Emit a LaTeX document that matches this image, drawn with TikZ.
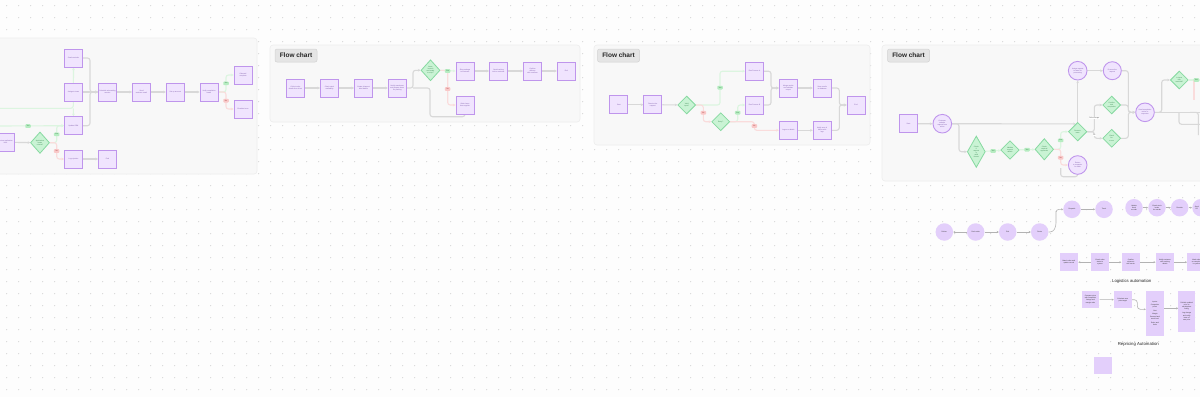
\documentclass[tikz,border=0pt]{standalone}
\usepackage{fontspec}
\setmainfont{Liberation Sans}
\usetikzlibrary{shapes.geometric,arrows.meta,calc}
\definecolor{bgc}{HTML}{FDFDFD}
\definecolor{dotc}{HTML}{CFCFCF}
\definecolor{panf}{HTML}{F8F8F8}
\definecolor{pand}{HTML}{EDEDED}
\definecolor{boxf}{HTML}{F0E4FE}
\definecolor{boxd}{HTML}{BF95EC}
\definecolor{boxt}{HTML}{7E5CAA}
\definecolor{diaf}{HTML}{C9F3D4}
\definecolor{diad}{HTML}{86D9A0}
\definecolor{diat}{HTML}{3E8A55}
\definecolor{lav}{HTML}{E3CFFB}
\definecolor{lineg}{HTML}{D8D8D8}
\definecolor{lgreen}{HTML}{DCF5E0}
\definecolor{lred}{HTML}{FADCDC}
\definecolor{tagyf}{HTML}{B6ECC1}
\definecolor{tagyt}{HTML}{2F7A45}
\definecolor{tagnf}{HTML}{F9C8C8}
\definecolor{tagnt}{HTML}{A33A3A}
\definecolor{fcf}{HTML}{E5E5E5}
\definecolor{fcd}{HTML}{D2D2D2}
\newcommand\nfnt{\fontsize{1.7}{2.1}\selectfont}
\pgfdeclarelayer{back}
\pgfdeclarelayer{lines}
\pgfsetlayers{back,lines,main}
\begin{document}
\begin{tikzpicture}[x=1pt,y=-1pt,
  box/.style={rectangle,draw=boxd,fill=boxf,line width=0.9pt,minimum width=18,minimum height=18,inner sep=0.5,font=\nfnt,align=center,text=boxt},
  dia/.style={diamond,draw=diad,fill=diaf,line width=0.8pt,inner sep=0,minimum width=18.6,minimum height=18.6,font=\nfnt,align=center,text=diat},
  circ/.style={circle,draw=boxd,fill=boxf,line width=0.9pt,minimum size=18.6,inner sep=0,font=\nfnt,align=center,text=boxt},
  lc/.style={circle,fill=lav,minimum size=17.5,inner sep=0,font=\nfnt,align=center,text=black!80},
  lsq/.style={rectangle,fill=lav,minimum width=18.5,minimum height=17.7,inner sep=0.5,font=\nfnt,align=center,text=black!80},
  tagy/.style={rectangle,fill=tagyf,rounded corners=0.8,inner sep=0,minimum width=5.5,minimum height=3.6,font=\fontsize{1.8}{2}\selectfont,text=tagyt},
  tagn/.style={rectangle,fill=tagnf,rounded corners=0.8,inner sep=0,minimum width=5.5,minimum height=3.6,font=\fontsize{1.8}{2}\selectfont,text=tagnt},
  cn/.style={draw=lineg,line width=1.1pt,rounded corners=2.5,-{Stealth[length=2.6,width=2.6]}},
  cnp/.style={draw=lineg,line width=1.1pt,rounded corners=2.5},
  cg/.style={cn,draw=lgreen},
  cgp/.style={cnp,draw=lgreen},
  cr/.style={cn,draw=lred},
  cl/.style={draw=black!30,line width=0.6pt,rounded corners=3,-{Stealth[length=2,width=2]}},
  panel/.style={fill=panf,draw=pand,line width=0.6pt,rounded corners=3},
  fc/.style={fill=fcf,draw=fcd,line width=0.5pt,rounded corners=2,minimum width=42,minimum height=13,inner sep=0,font=\bfseries\fontsize{6.5}{7}\selectfont,text=black!85},
  ttl/.style={font=\fontsize{4.3}{5}\selectfont,text=black!85},
  lbl/.style={fill=white,inner sep=0.3,font=\nfnt,text=black!70}
]
\useasboundingbox (0,0) rectangle (1200,397);
\begin{pgfonlayer}{back}
\fill[bgc] (0,0) rectangle (1200,397);
\foreach \i in {0,...,100}{\foreach \j in {0,...,33}{\fill[dotc] (6.7+12*\i,5.7+12*\j) circle (0.55);}}
\draw[panel] (-5,38) rectangle (257,174);
\draw[panel] (270,45) rectangle (580,122);
\draw[panel] (594,45) rectangle (870,145);
\draw[panel] (882,45) rectangle (1210,181);
\end{pgfonlayer}

% ---------- panel 1 ----------
\node[box] (A) at (73.5,58) {Send reminder};
\node[box] (B) at (73.5,92) {Assign to team};
\node[box] (C) at (73.5,125.7) {Update CRM};
\node[box] (D) at (73.5,159) {Log rejection};
\node[box] (E) at (5.6,142.3) {Review application\\form};
\node[dia,minimum width=19,minimum height=21.4] (D1) at (40,142.7) {Application\\meets\\criteria?};
\node[box] (F) at (107.5,159) {End};
\node[box] (G) at (107.5,92) {Schedule onboarding\\session};
\node[box] (H) at (141.5,92) {Send\\welcome email};
\node[box] (I) at (175.3,92) {Set up account};
\node[box] (J) at (209,92) {Verify completion\\status};
\node[box] (K) at (243,75) {Onboard\\complete};
\node[box] (L) at (243,109) {Escalate issue};
\node[tagy] (y1) at (56.7,134.3) {Yes};
\node[tagn] (n1) at (56.7,151) {No};
\node[tagy] (y0) at (28,126) {Yes};
\node[tagy] (y2) at (226,83.3) {Yes};
\node[tagn] (n2) at (226,100.7) {No};
\coordinate (o1) at (0,108.3);
\coordinate (o2) at (0,126);

% ---------- panel 2 ----------
\node[fc] (fc2) at (296,55.5) {Flow chart};
\node[box] (M1) at (295.5,88) {Collect order\\details from client};
\node[box] (M2) at (329.5,88) {Check stock\\availability};
\node[box] (M3) at (363.5,88) {Create shipment\\label details};
\node[box] (M4) at (397.3,88) {Notify warehouse\\and prepare items\\for packing};
\node[dia,minimum width=19,minimum height=21] (D2) at (430.5,70.3) {Items\\in stock\\and ready\\to ship?};
\node[box] (N1) at (465,71) {Ship package\\to customer};
\node[box] (N2) at (498.5,71) {Send tracking\\info to customer};
\node[box] (N3) at (532.5,71) {Confirm\\delivery\\with customer};
\node[box] (N4) at (566.3,71) {End};
\node[box] (N5) at (465,105) {Order items\\from supplier};
\node[tagy] (y3) at (447.7,71) {Yes};
\node[tagn] (n3) at (447.7,89) {No};

% ---------- panel 3 ----------
\node[fc] (fc3) at (618.5,55.5) {Flow chart};
\node[box] (P1) at (618.8,104.7) {Start};
\node[box] (P2) at (652.8,104.7) {Receive the\\request};
\node[dia,minimum width=18,minimum height=18] (Q1) at (686.7,105) {Valid\\input?};
\node[dia,minimum width=18,minimum height=18] (Q2) at (720.7,121.7) {Retry?};
\node[box] (R1) at (754.5,71.2) {Run Process A};
\node[box] (R2) at (754.5,105) {Run Process B};
\node[box] (R3) at (788.3,88) {Merge results\\and validate\\output};
\node[box] (R4) at (822.2,88) {Save results\\to database};
\node[box] (R5) at (856,105) {End};
\node[box] (R6) at (788.3,130.3) {Log error details};
\node[box] (R7) at (822.2,130.3) {Notify user of\\failure with\\logs};
\node[tagy] (y4) at (720,87.7) {Yes};
\node[tagn] (n4) at (703.3,112.7) {No};
\node[tagy] (y5) at (737.7,112.7) {Yes};
\node[tagn] (n5) at (754.3,126) {No};

% ---------- panel 4 ----------
\node[fc] (fc4) at (908.5,55.5) {Flow chart};
\node[box] (S1) at (908.5,123.8) {Start};
\node[circ] (C1) at (942.3,123.7) {Customer\\submits\\request form\\online};
\node[dia,minimum width=18,minimum height=31.4] (T1) at (976.3,151.7) {Check\\if\\request\\is\\valid\\format};
\node[dia] (T2) at (1010,150) {Validate\\request\\details};
\node[dia,minimum height=21.4] (T3) at (1044.3,149.3) {Check\\required\\approvals};
\node[dia] (W1) at (1077.7,131.7) {Route to\\team};
\node[circ] (C3) at (1077.7,165) {Return\\to requester\\for edits};
\node[circ] (C4) at (1077.7,70.7) {Assign request\\to team for\\processing};
\node[circ,minimum size=18] (C5) at (1112.3,70.7) {Process the\\request};
\node[dia,minimum width=18,minimum height=18] (W2) at (1111.7,105) {Confirm\\task\\completion};
\node[dia,minimum width=18,minimum height=18] (W3) at (1111.7,138.3) {Check\\for\\errors};
\node[circ] (C6) at (1145,112.3) {Send completion\\notice to\\requester};
\node[dia,minimum width=18,minimum height=18] (W4) at (1179.3,80) {Is issue\\fully\\resolved?};
\node[tagy] (y6) at (993,151) {Yes};
\node[tagy] (y7) at (1027,149.7) {Yes};
\node[tagy] (y8) at (1060.7,140.3) {Yes};
\node[tagn] (n8) at (1060.7,157.7) {No};
\node[tagy] (y9) at (1196.3,80) {Yes};
\node[lbl] (lb1) at (1094.3,117.7) {Fail message};
\node[lbl] (lb2) at (1094.3,135) {Ok};
\coordinate (e1) at (1200,80);
\coordinate (e2) at (1200,112.3);
\coordinate (e3) at (1200,124.3);
\coordinate (e4) at (1198.3,135);
\coordinate (e5) at (1194,100);

% ---------- lower area ----------
\node[lc] (L1) at (944.3,232) {Deliver};
\node[lc] (L2) at (975.7,232) {Pack order};
\node[lc] (L3) at (1007.7,232) {Pick};
\node[lc] (L4) at (1039.7,232) {Route};
\node[lc] (L5) at (1072,209.3) {Dispatch};
\node[lc] (L6) at (1104,209.3) {Track};
\node[lc] (L7) at (1134,207.7) {Update\\stock\\records};
\node[lc] (L8) at (1157,207.7) {Check stock\\levels\\for reorder};
\node[lc] (L9) at (1179.7,207.7) {Reorder};
\node[lc] (L10) at (1201,207.7) {};
\node[font=\nfnt,text=black!80,align=center,inner sep=0] (L10t) at (1196.8,207.7) {Send\\PO};
\node[lsq] (SQ1) at (1068.8,262.2) {Match order and\\update record};
\node[lsq] (SQ2) at (1100,262.2) {Check order\\status in\\system};
\node[lsq] (SQ3) at (1130.8,262.2) {Confirm\\shipment\\with carrier};
\node[lsq] (SQ4) at (1165,262.2) {Notify customer\\with tracking\\details};
\node[lsq] (SQ5) at (1196.5,262.2) {Mark order\\as complete\\in system};
\node[ttl] (t1) at (1131.7,281) {Logistics automation};
\node[lsq,minimum width=17.6,minimum height=17.6] (Z1) at (1090.5,299.5) {Compare price\\with competitor\\listings and\\margin rules};
\node[lsq,minimum width=17.7,minimum height=17.3] (Z2) at (1122.8,299.7) {Calculate new\\price target};
\node[lsq,minimum width=18,minimum height=45.3] (Z3) at (1155,313.3) {Inputs:\\[1.2pt] Competitor\\prices\\[1.2pt] Cost\\[1.2pt] Margin\\[1.2pt] Demand and\\stock level\\[1.2pt] Rules and\\limits};
\node[lsq,minimum width=16.7,minimum height=41.7] (Z4) at (1186.7,311.5) {Publish updated\\price to\\marketplace\\listing\\[2pt] Log change\\and notify\\team of\\new price};
\node[ttl] (t2) at (1138.3,344) {Repricing Automation};
\node[lsq,minimum width=17.7,minimum height=17.3] (Z5) at (1103.2,365.3) {};

% ---------- connectors ----------
\begin{pgfonlayer}{lines}
% panel 1
\draw[cn] (E) -- (D1);
\draw[cg] (D1.east) -- (56.7,142.7) |- (C.west);
\draw[cr] (D1.east) -- (56.7,142.7) |- (D.west);
\draw[cg] (o1) -- (73.3,108.3) -- (A.south);
\draw[cg] (73.3,108.3) -- (C.north);
\draw[cg] (o2) -- (C.west);
\draw[cn] (A.east) -- (90,58) |- (G.west);
\draw[cn] (C.east) -- (90,125.7) |- (G.west);
\draw[cn] (B) -- (G);
\draw[cn] (D) -- (F);
\draw[cn] (G) -- (H);
\draw[cn] (H) -- (I);
\draw[cn] (I) -- (J);
\draw[cg] (J.east) -- (226,92) |- (K.west);
\draw[cr] (J.east) -- (226,92) |- (L.west);
% panel 2
\draw[cn] (M1) -- (M2);
\draw[cn] (M2) -- (M3);
\draw[cn] (M3) -- (M4);
\draw[cn] (M4.east) -- (413,88) |- (D2.west);
\draw[cnp] (N5.south) |- (430,116.7) -- (430,88) -- (413,88);
\draw[cg] (D2.east) -- (N1.west);
\draw[cr] (D2.east) -- (447.7,70.3) |- (N5.west);
\draw[cn] (N1) -- (N2);
\draw[cn] (N2) -- (N3);
\draw[cn] (N3) -- (N4);
% panel 3
\draw[cn] (P1) -- (P2);
\draw[cn] (P2) -- (Q1);
\draw[cg] (Q1.east) -- (720,105) |- (R1.west);
\draw[cr] (Q1.east) -- (703.3,105) |- (Q2.west);
\draw[cg] (Q2.east) -- (737.7,121.7) |- (R2.west);
\draw[cr] (Q2.east) -- (754.3,121.7) |- (R6.west);
\draw[cn] (R1.east) -- (771,71.2) |- (R3.west);
\draw[cn] (R2.east) -- (771,105) |- (R3.west);
\draw[cn] (R3) -- (R4);
\draw[cn] (R4.east) -- (839.3,88) |- (R5.west);
\draw[cn] (R7.east) -- (839.3,130.3) |- (R5.west);
\draw[cn] (R6) -- (R7);
% panel 4
\draw[cn] (S1) -- (C1);
\draw[cn] (C1.east) -- ($(W1.north)!0.2!(W1.west)$);
\draw[cn] (C1.east) -- (959,123.7) |- (T1.west);
\draw[cg] (T1) -- (T2);
\draw[cg] (T2) -- (T3);
\draw[cg] (T3.east) -- (1060.7,149.3) |- (W1.west);
\draw[cr] (T3.east) -- (1060.7,149.3) |- (C3.west);
\draw[cnp] (C3.south) |- (1060.7,176.7) -- (1060.7,168);
\draw[cn] (W1.north) -- (C4.south);
\draw[cn] (C4) -- (C5);
\draw[cn] (C5.east) -- (1128.3,70.7) |- (C6.west);
\draw[cn] (W1.east) -- (1094.3,131.7) |- (W2.west);
\draw[cn] (W1.east) -- (1094.3,131.7) |- (W3.west);
\draw[cn] (W2.east) -- (1128.3,105) |- (C6.west);
\draw[cn] (W3.east) -- (1128.3,138.3) |- (C6.west);
\draw[cn] (C6.east) -- (1161.7,112.3) |- (W4.west);
\draw[cnp] (C6.east) -- (e2);
\draw[cnp] (1179,112.3) |- (e3);
\draw[cnp] (1190,112.3) -- (1198.3,112.3) -- (e4);
\draw[cgp] (W4.east) -- (e1);
\draw[cnp,draw=lred] (1194,80) -- (e5);
% lower area
\draw[cl] (L2) -- (L1);
\draw[cl] (L2) -- (L3);
\draw[cl] (L3) -- (L4);
\draw[cl] (L4.east) -- (1053,232) -- (1056,226) -- (1056,214) |- (L5.west);
\draw[cl] (L5) -- (L6);
\draw[cl] (L7) -- (L8);
\draw[cl] (L8) -- (L9);
\draw[cl] (L9) -- (L10);
\draw[cl] (SQ2) -- (SQ1);
\draw[cl] (SQ2) -- (SQ3);
\draw[cl] (SQ3) -- (SQ4);
\draw[cl] (SQ4) -- (SQ5);
\draw[cl] (Z1) -- (Z2);
\draw[cl] (Z2.east) -- (1137.3,299.7) |- (Z3.west |- 0,309.3);
\draw[cl] (Z3.east |- 0,308.3) -- (Z4.west |- 0,308.3);
\end{pgfonlayer}
\end{tikzpicture}
\end{document}
